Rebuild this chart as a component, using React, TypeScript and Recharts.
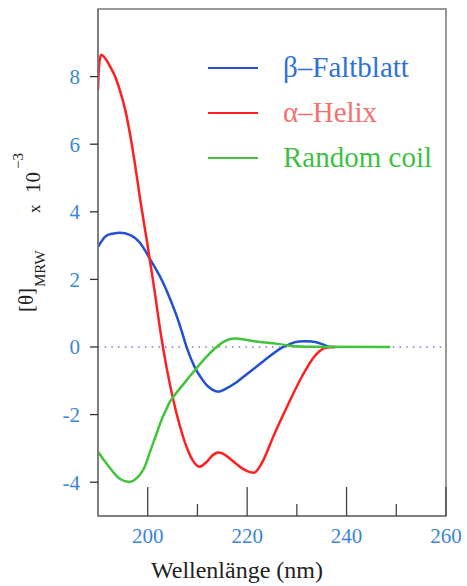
import { Legend, Line, LineChart, ReferenceArea, ReferenceLine, XAxis, YAxis } from "recharts";

// wavelength (nm) / mean residue ellipticity x 10^-3
const betaNm = [190, 191.4, 192.8, 194.4, 196.4, 198.4, 200.2, 201.6, 203, 204.4, 205.8, 207, 208, 209.4, 210.6, 211.8, 213, 214, 215.4, 217.8, 219.8, 221.8, 224.4, 227, 228.8, 230.4, 233, 234.8, 236.4, 237.6];
const betaVal = [2.96, 3.26, 3.35, 3.38, 3.32, 3.09, 2.67, 2.32, 1.93, 1.46, 0.93, 0.39, -0.08, -0.58, -0.88, -1.12, -1.26, -1.32, -1.26, -1.05, -0.82, -0.59, -0.29, -0.02, 0.1, 0.16, 0.16, 0.1, 0.01, 0];

const helixNm = [190, 190.2, 190.6, 191.4, 192.5, 193.5, 194.5, 195.5, 196.5, 197.5, 198.5, 199.8, 201.2, 202.6, 203.8, 205, 206.4, 207.8, 209, 210.4, 211.8, 213, 214.2, 215.2, 216, 217, 218, 219, 220, 221.4, 223, 224, 225, 228.4, 231, 233.8, 235.8, 237.8];
const helixVal = [7.61, 8.3, 8.65, 8.55, 8.28, 7.98, 7.55, 7.0, 6.25, 5.35, 4.35, 3.17, 1.84, 0.42, -0.61, -1.47, -2.3, -2.95, -3.34, -3.54, -3.41, -3.21, -3.12, -3.16, -3.24, -3.36, -3.48, -3.59, -3.67, -3.72, -3.42, -3.1, -2.74, -1.65, -0.88, -0.23, -0.02, 0];

const coilNm = [190, 191.4, 193, 194.4, 196, 197.4, 199, 200, 201, 202, 203, 204, 205, 208.4, 211.8, 215, 217.8, 221.8, 225.8, 228.4, 232.4, 248.8];
const coilVal = [-3.1, -3.39, -3.69, -3.9, -3.99, -3.93, -3.66, -3.3, -2.88, -2.47, -2.08, -1.76, -1.5, -0.88, -0.29, 0.13, 0.25, 0.16, 0.1, 0.04, 0.01, 0];

const xTicks = [200, 210, 220, 230, 240, 250, 260];
const xMajor = [200, 220, 240, 260];
const yTicks = [-4, -2, 0, 2, 4, 6, 8];

const zip = (nm: number[], val: number[]) => nm.map((n, i) => ({ nm: n, v: val[i] }));

const series = [
  { name: "β–Faltblatt", data: zip(betaNm, betaVal), stroke: "#2350d2", text: "#2f72d6", curve: "natural" },
  { name: "α–Helix", data: zip(helixNm, helixVal), stroke: "#ff1f1f", text: "#f46f6f", curve: "monotone" },
  { name: "Random coil", data: zip(coilNm, coilVal), stroke: "#41c43a", text: "#3fbf3f", curve: "natural" },
];

const FONT = "Liberation Serif, DejaVu Serif, serif";
const TICK_BLUE = "#3a86d8";

const XTick = (props: any) => {
  const { x, y, payload } = props;
  const major = xMajor.includes(payload.value);
  return (
    <g>
      <line x1={x} y1={y} x2={x} y2={y - (major ? 29 : 12)} stroke="#444" strokeWidth={1.3} />
      {major && (
        <text x={x} y={y + 27} textAnchor="middle" fill={TICK_BLUE} fontSize={21} fontFamily={FONT}>
          {payload.value}
        </text>
      )}
    </g>
  );
};

const YLabel = () => (
  <g transform="translate(36, 312) rotate(-90)" fontFamily={FONT} fill="#222">
    <text x={0} y={-3} fontSize={21}>[θ]</text>
    <text x={25} y={9} fontSize={15}>MRW</text>
    <text x={99} y={4} fontSize={17}>x</text>
    <text x={119} y={4} fontSize={21}>10</text>
    <text x={143} y={-13} fontSize={15}>−3</text>
  </g>
);

const XLabel = () => (
  <text x={237} y={578} textAnchor="middle" fontSize={24} fontFamily={FONT} fill="#222">
    Wellenlänge (nm)
  </text>
);

const LegendBox = () => (
  <div style={{ fontFamily: FONT }}>
    {series.map((s) => (
      <div key={s.name} style={{ display: "flex", alignItems: "center", height: 45 }}>
        <span style={{ display: "inline-block", width: 50, borderTop: `2px solid ${s.stroke}` }} />
        <span style={{ marginLeft: 25, fontSize: 29, lineHeight: "45px", color: s.text, whiteSpace: "nowrap" }}>{s.name}</span>
      </div>
    ))}
  </div>
);

export default function App() {
  return (
    <div style={{ position: "absolute", left: 0, top: 0, width: 467, height: 586, background: "#fff" }}>
      <LineChart width={467} height={586} margin={{ top: 9, right: 21, bottom: 30, left: 38 }}>
        <XAxis
          type="number"
          dataKey="nm"
          domain={[190, 260]}
          ticks={xTicks}
          allowDataOverflow
          height={40}
          tickSize={0}
          tickMargin={0}
          tickLine={false}
          axisLine={{ stroke: "#777", strokeWidth: 1.5 }}
          tick={<XTick />}
          interval={0}
          label={XLabel}
        />
        <YAxis
          type="number"
          domain={[-5, 10]}
          ticks={yTicks}
          allowDataOverflow
          width={60}
          tickSize={8}
          tickMargin={10}
          tickLine={{ stroke: "#333", strokeWidth: 1.3 }}
          axisLine={{ stroke: "#777", strokeWidth: 1.5 }}
          tick={{ fill: TICK_BLUE, fontSize: 21, fontFamily: FONT }}
          interval={0}
          label={YLabel}
        />
        <ReferenceArea x1={190} x2={260} y1={-5} y2={10} fill="none" stroke="#777" strokeWidth={1.5} />
        <ReferenceLine y={0} stroke="#8b6fe0" strokeWidth={1.6} strokeDasharray="1.5 5.2" />
        {series.map((s) => (
          <Line
            key={s.name}
            name={s.name}
            data={s.data}
            dataKey="v"
            type={s.curve as any}
            stroke={s.stroke}
            strokeWidth={2.5}
            dot={false}
            isAnimationActive={false}
          />
        ))}
        <Legend
          layout="vertical"
          align="center"
          verticalAlign="middle"
          content={<LegendBox />}
          wrapperStyle={{ left: 208, top: 45, width: "auto", height: "auto" }}
        />
      </LineChart>
    </div>
  );
}
